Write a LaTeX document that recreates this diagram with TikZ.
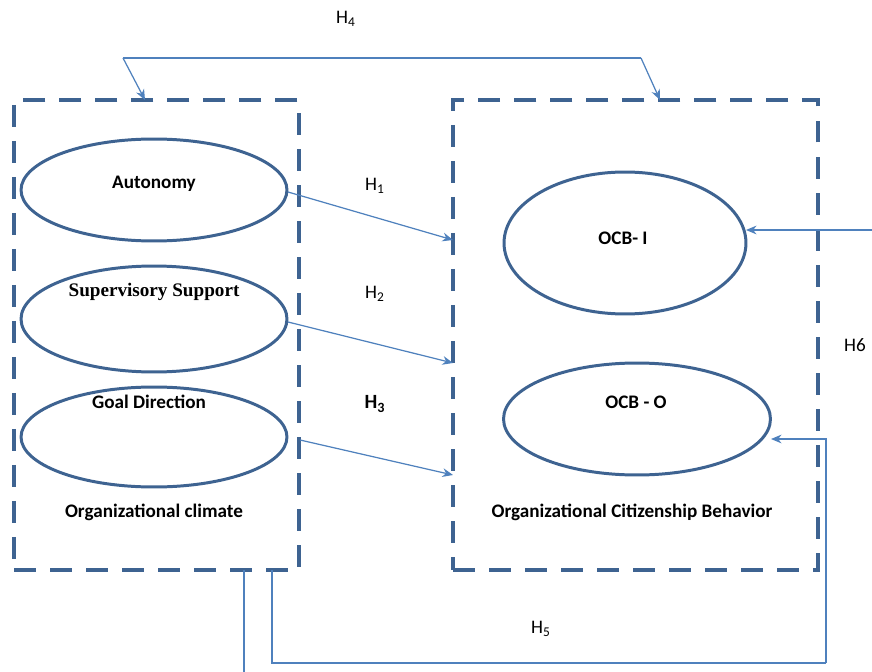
\documentclass[tikz,border=0pt]{standalone}
\usepackage{fontspec}
\setmainfont{Carlito}
\newfontfamily\serifbold{Liberation Serif}
\usetikzlibrary{arrows.meta,shapes.geometric,calc}

\definecolor{boxblue}{HTML}{3E6391}
\definecolor{linkblue}{HTML}{4F81BD}

\tikzset{
  varbox/.style={draw=boxblue,line width=2.2pt,dash pattern=on 12.5pt off 8pt,
    minimum width=#1,inner sep=0pt,outer sep=0pt},
  construct/.style={ellipse,draw=boxblue,line width=1.7pt,inner sep=0pt,outer sep=0pt},
  lbl/.style={font=\bfseries\fontsize{10.9}{12}\selectfont,inner sep=1pt},
  hyp/.style={font=\fontsize{10.9}{12}\selectfont,inner sep=1pt},
  link/.style={draw=linkblue,line width=0.7pt,-{Stealth[length=6pt,width=5pt]}},
  plain/.style={draw=linkblue,line width=0.7pt}
}

\begin{document}
\begin{tikzpicture}[x=0.02cm,y=-0.02cm]
\useasboundingbox (0,0) rectangle (872,672);

% the two dashed frames
\node[varbox=5.7cm,minimum height=9.4cm] (climbox) at (156.5,335) {};
\node[varbox=7.3cm,minimum height=9.4cm] (ocbbox) at (635.5,335) {};

% organizational climate dimensions
\node[construct,minimum width=5.32cm,minimum height=2.04cm] (auto) at (154,190) {};
\node[construct,minimum width=5.32cm,minimum height=2.12cm] (supp) at (154,319) {};
\node[construct,minimum width=5.32cm,minimum height=2.0cm] (goal) at (154,437) {};
\node[lbl] (autot) at (154,184) {Autonomy};
\node[lbl,font=\serifbold\bfseries\fontsize{10.9}{12}\selectfont] (suppt) at (154,292) {Supervisory Support};
\node[lbl] (goalt) at (149,402) {Goal Direction};
\node[lbl] (climt) at (154,512) {Organizational climate};

% OCB dimensions
\node[construct,minimum width=4.84cm,minimum height=2.84cm] (ocbi) at (625,243) {};
\node[construct,minimum width=5.34cm,minimum height=2.24cm] (ocbo) at (637,419) {};
\node[lbl] (ocbit) at (623,238) {OCB- I};
\node[lbl] (ocbot) at (636,402) {OCB - O};
\node[lbl] (ocbt) at (632,512) {Organizational Citizenship Behavior};

% hypotheses labels
\node[hyp] (h1) at (375,186) {H\textsubscript{1}};
\node[hyp] (h2) at (375,294) {H\textsubscript{2}};
\node[hyp,font=\bfseries\fontsize{11.5}{12}\selectfont] (h3) at (375,404) {H\textsubscript{3}};
\node[hyp] (h4) at (346,19) {H\textsubscript{4}};
\node[hyp] (h5) at (541,629) {H\textsubscript{5}};
\node[hyp] (h6) at (855,345) {H6};

% connector end points
\coordinate (a1) at (288,192);
\coordinate (b1) at (453,240);
\coordinate (a2) at (288,322);
\coordinate (b2) at (453,363);
\coordinate (a3) at (300,440);
\coordinate (b3) at (453,475);
\coordinate (h4l) at (123,58);
\coordinate (h4r) at (641,58);
\coordinate (h4a) at (145,100);
\coordinate (h4b) at (660,100);
\coordinate (h6in) at (872,230);
\coordinate (h6top) at (746,230);
\coordinate (h6out) at (826,663);
\coordinate (h6o) at (771,439);
\coordinate (h5a) at (272,570);
\coordinate (h5b) at (244,570);
\coordinate (h5end) at (244,672);

% H1 - H3
\draw[link] (a1) -- (b1);
\draw[link] (a2) -- (b2);
\draw[link] (a3) -- (b3);

% H4
\draw[plain] (h4l) -- (h4r);
\draw[link] (h4l) -- (h4a);
\draw[link] (h4r) -- (h4b);

% H6
\draw[link] (h6in) -- (h6top);
\draw[link] (h6out) |- (h6o);

% H5
\draw[plain] (h5a) |- (h6out);
\draw[plain] (h5b) -- (h5end);

\end{tikzpicture}
\end{document}
